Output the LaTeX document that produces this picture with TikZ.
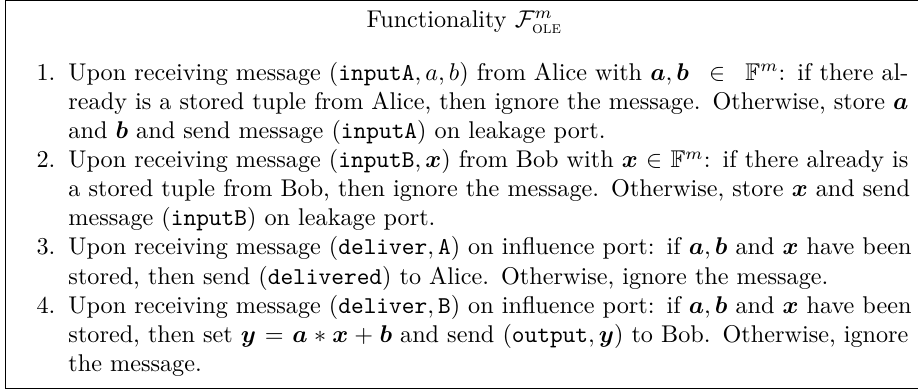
\documentclass[tikz,border=0pt]{standalone}
\usepackage{amsmath,amssymb}
\usetikzlibrary{positioning}

% one justified line of an item
\newcommand{\fullline}[1]{\makebox[\linewidth][s]{#1}\par}

\begin{document}
\begin{tikzpicture}[x=1pt,y=1pt,
	frameline/.style={draw=black, line width=0.4pt},
	ttlnode/.style={inner sep=0pt, anchor=base},
	numnode/.style={inner sep=0pt, anchor=base east},
	txtnode/.style={inner sep=0pt, text width=347.1pt, anchor=base west}]
	\useasboundingbox (0,0) rectangle (379.34,161.16);
	\draw[frameline] (379.34,160.99) -- (2.36,160.99) -- (2.36,0.58) -- (379.34,0.58);
	\node[ttlnode] (title) at (191.9,149.8) {Functionality $\mathcal{F}^{m}_{\textsc{ole}}$};
	\node[txtnode] (item1) at (28.1,127.8) {%
		\fullline{Upon receiving message $(\texttt{inputA}, a, b)$ from Alice with $\boldsymbol{a}, \boldsymbol{b} \in \mathbb{F}^m$: if there al-}
		\fullline{ready is a stored tuple from Alice, then ignore the message. Otherwise, store $\boldsymbol{a}$}
		and $\boldsymbol{b}$ and send message $(\texttt{inputA})$ on leakage port.};
	\node[txtnode] (item2) at (28.1,91.8) {%
		\fullline{Upon receiving message $(\texttt{inputB}, \boldsymbol{x})$ from Bob with $\boldsymbol{x} \in \mathbb{F}^m$: if there already is}
		\fullline{a stored tuple from Bob, then ignore the message. Otherwise, store $\boldsymbol{x}$ and send}
		message $(\texttt{inputB})$ on leakage port.};
	\node[txtnode] (item3) at (28.1,55.8) {%
		\fullline{Upon receiving message $(\texttt{deliver}, \texttt{A})$ on influence port: if $\boldsymbol{a}, \boldsymbol{b}$ and $\boldsymbol{x}$ have been}
		stored, then send $(\texttt{delivered})$ to Alice. Otherwise, ignore the message.};
	\node[txtnode] (item4) at (28.1,31.8) {%
		\fullline{Upon receiving message $(\texttt{deliver}, \texttt{B})$ on influence port: if $\boldsymbol{a}, \boldsymbol{b}$ and $\boldsymbol{x}$ have been}
		\fullline{stored, then set $\boldsymbol{y} = \boldsymbol{a} * \boldsymbol{x} + \boldsymbol{b}$ and send $(\texttt{output}, \boldsymbol{y})$ to Bob. Otherwise, ignore}
		the message.};
	\node[numnode] (num1) at (23.1,127.8) {1.};
	\node[numnode] (num2) at (23.1,91.8) {2.};
	\node[numnode] (num3) at (23.1,55.8) {3.};
	\node[numnode] (num4) at (23.1,31.8) {4.};
\end{tikzpicture}
\end{document}
